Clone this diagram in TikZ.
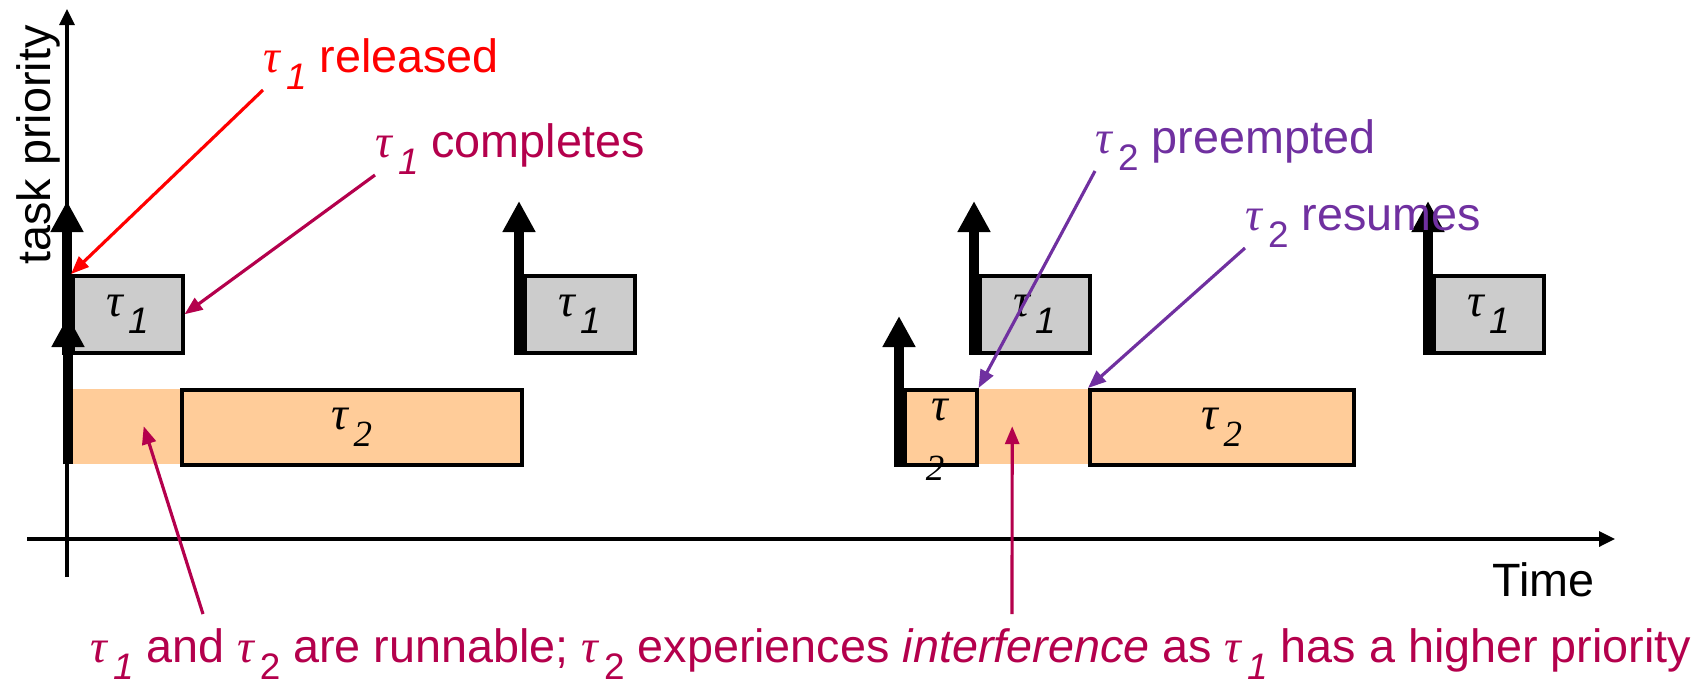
\documentclass[tikz,border=0pt]{standalone}
\usepackage{fontspec}
\setmainfont{Liberation Sans}
\newfontfamily\greekfont{Liberation Serif}
\usepackage{xcolor}
\usepackage{tikz}
\usetikzlibrary{arrows.meta}

\definecolor{hiGray}{RGB}{204,204,204}
\definecolor{loPeach}{RGB}{255,204,153}
\definecolor{noteRed}{RGB}{255,0,0}
\definecolor{noteWine}{RGB}{180,0,76}
\definecolor{notePurple}{RGB}{112,48,160}

% tau with a lowered index
\newcommand{\tk}[1]{{\greekfont\itshape τ}\kern0.12em\raisebox{-0.7ex}{\fontsize{10.5}{11}\selectfont #1}}

\tikzset{
	every node/.style={font=\fontsize{13.3}{16}\selectfont, inner sep=0pt},
	hitask/.style={draw, line width=1pt, fill=hiGray, minimum width=11mm, minimum height=7.7mm, anchor=north west},
	lotask/.style={draw, line width=1pt, fill=loPeach, minimum height=7.5mm, anchor=north west},
	waiting/.style={fill=loPeach, minimum height=7.5mm, anchor=north west},
	release/.style={line width=1mm, -{Triangle[length=3.1mm,width=3.1mm]}},
	axis/.style={line width=0.9pt, -{Triangle[length=1.6mm,width=1.5mm]}},
	note/.style={line width=0.9pt, -{Triangle[length=1.8mm,width=1.4mm]}},
}

\begin{document}
\begin{tikzpicture}[x=0.1mm, y=-0.1mm]
		\useasboundingbox (0,0) rectangle (1705,685);
		
		% Axes
		\coordinate (xl) at (27,539);
		\coordinate (xr) at (1615,539);
		\coordinate (yb) at (67,577);
		\coordinate (yt) at (67,9);
		\draw[axis] (xl) -- (xr);
		\draw[axis] (yb) -- (yt);
		\node[anchor=base west] (time) at (1492,596) {Time};
		\node[rotate=90] (prio) at (38,145) {task priority};
		
		% Waiting time of tau_2 (no border)
		\node[waiting, minimum width=10.8mm] (w1) at (72,388) {};
		\node[waiting, minimum width=11.3mm] (w2) at (975,388) {};
		
		% Jobs of tau_1
		\node[hitask] (g1) at (71,274) {\tk{\textit{1}}};
		\node[hitask] (g2) at (523,274) {\tk{\textit{1}}};
		\node[hitask] (g3) at (978,274) {\tk{\textit{1}}};
		\node[hitask] (g4) at (1432,274) {\tk{\textit{1}}};
		
		% Jobs of tau_2
		\node[lotask, minimum width=34mm] (o1) at (180,388) {\tk{{\greekfont\itshape 2}}};
		\node[lotask, minimum width=7.2mm] (o2) at (903,388) {};
		\node[lotask, minimum width=26.4mm] (o3) at (1088,388) {\tk{{\greekfont\itshape 2}}};
		\node[anchor=base] (o2tau) at (940,420) {\greekfont\itshape τ};
		\node[anchor=base] (o2idx) at (935,480) {\greekfont\itshape\fontsize{10.5}{11}\selectfont 2};
		
		% Release arrows
		\coordinate (hiTop) at (0,201);
		\coordinate (loTop) at (0,316);
		\coordinate (r1) at ([xshift=-0.4mm]w1.south west);
		\coordinate (r2) at ([xshift=-0.4mm]g1.south west);
		\coordinate (r3) at ([xshift=-0.4mm]g2.south west);
		\coordinate (r4) at ([xshift=-0.4mm]o2.south west);
		\coordinate (r5) at ([xshift=-0.4mm]g3.south west);
		\coordinate (r6) at ([xshift=-0.4mm]g4.south west);
		\draw[release] (r1) -- (r1 |- loTop);
		\draw[release] (r2) -- (r2 |- hiTop);
		\draw[release] (r3) -- (r3 |- hiTop);
		\draw[release] (r4) -- (r4 |- loTop);
		\draw[release] (r5) -- (r5 |- hiTop);
		\draw[release] (r6) -- (r6 |- hiTop);
		
		% Annotations
		\node[anchor=base west, text=noteRed] (rel) at (263,72) {\tk{\textit{1}} released};
		\node[anchor=base west, text=noteWine] (comp) at (375,157) {\tk{\textit{1}} completes};
		\node[anchor=base west, text=notePurple] (pre) at (1095,153) {\tk{2} preempted};
		\node[anchor=base west, text=notePurple] (res) at (1245,230) {\tk{2} resumes};
		\node[anchor=base west, text=noteWine] (why) at (90,662) {\tk{\textit{1}} and \tk{2} are runnable; \tk{2} experiences \textit{interference} as \tk{\textit{1}} has a higher priority};
		
		\draw[note, noteRed] (rel.south west) -- (g1.north west);
		\draw[note, noteWine] (comp.south west) -- (g1.east);
		\draw[note, notePurple] (pre.south west) -- (o2.north east);
		\draw[note, notePurple] (res.south west) -- (o3.north west);
		
		\coordinate (runTail) at (203,614);
		\coordinate (intTail) at (1012,614);
		\draw[note, noteWine] (runTail) -- ([xshift=1.7mm]w1.center);
		\draw[note, noteWine] (intTail) -- ([xshift=-2mm]w2.center);
	\end{tikzpicture}
\end{document}
